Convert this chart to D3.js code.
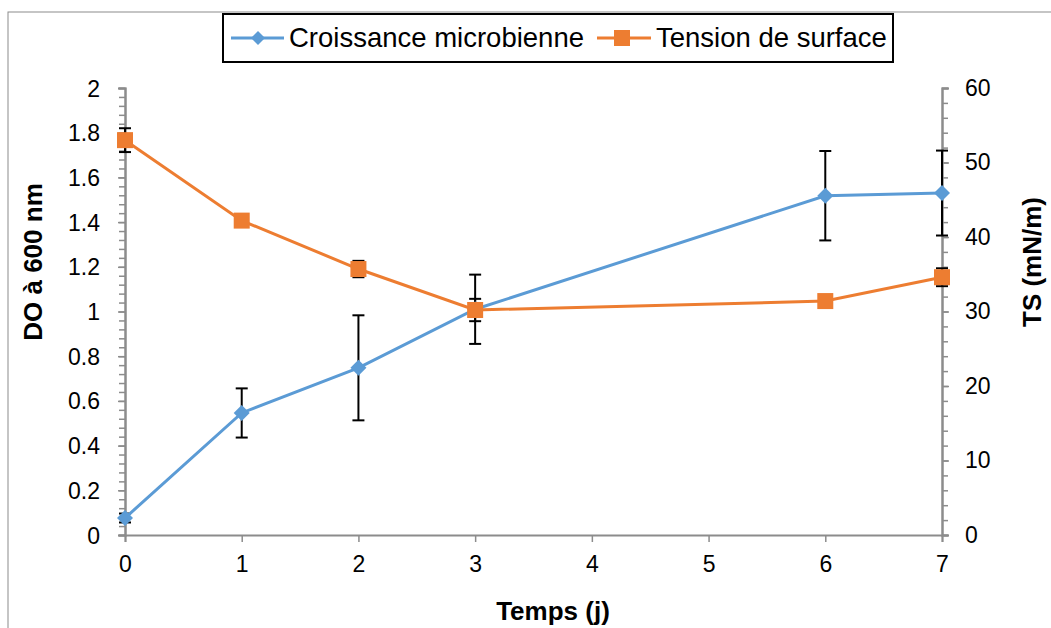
<!DOCTYPE html>
<html><head><meta charset="utf-8">
<script src="https://cdn.jsdelivr.net/npm/d3@7"></script>
<style>body{margin:0;background:#fff;}svg{display:block;font-family:"Liberation Sans",Arial,sans-serif;}</style>
</head><body>
<svg id="c" width="1051" height="628"></svg>
<script>
const days = [0, 1, 2, 3, 6, 7];
const xTicks = [0, 1, 2, 3, 4, 5, 6, 7];
const growth = [0.076, 0.546, 0.748, 1.01, 1.518, 1.53];
const growthErr = [0.02, 0.11, 0.235, 0.155, 0.2, 0.19];
const tension = [53.0, 42.2, 35.7, 30.2, 31.4, 34.6];
const tensionErr = [1.6, 0.4, 1.1, 1.5, 0.4, 1.2];
const leftTicks = [0, 0.2, 0.4, 0.6, 0.8, 1, 1.2, 1.4, 1.6, 1.8, 2];
const rightTicks = [0, 10, 20, 30, 40, 50, 60];
const seriesNames = ["Croissance microbienne", "Tension de surface"];

const svg = d3.select("#c");
const x = d3.scaleLinear().domain([0, 7]).range([125, 942]);
const yL = d3.scaleLinear().domain([0, 2]).range([535, 88]);
const yR = d3.scaleLinear().domain([0, 60]).range([535, 88]);
const axisCol = "#8c8c8c";
const blue = "#5b9bd5", orange = "#ed7d31";

// outer border
svg.append("rect").attr("x", 8).attr("y", 12).attr("width", 1100).attr("height", 700)
  .attr("fill", "none").attr("stroke", "#8c8c8c").attr("stroke-width", 1);

function styleAxis(g) {
  g.selectAll(".domain").attr("stroke", axisCol).attr("stroke-width", 2);
  g.selectAll(".tick line").attr("stroke", axisCol).attr("stroke-width", 1.5);
  g.selectAll(".tick text").attr("fill", "#000").style("font-size", "23px").style("font-family", "Liberation Sans, Arial, sans-serif");
}

// left minor ticks
svg.append("g").attr("transform", "translate(125,0)")
  .call(d3.axisLeft(yL).tickValues(d3.range(0, 51).map(i => i * 0.04)).tickSize(6).tickFormat(""))
  .call(styleAxis);
const gl = svg.append("g").attr("transform", "translate(125,0)")
  .call(d3.axisLeft(yL).tickValues(leftTicks).tickSize(7).tickPadding(18).tickFormat(d => d3.format("")(+d.toFixed(1))))
  .call(styleAxis);
gl.selectAll(".tick text").attr("dy", "0.35em");

svg.append("g").attr("transform", "translate(942,0)")
  .call(d3.axisRight(yR).tickValues(d3.range(0, 31).map(i => i * 2)).tickSize(6).tickFormat(""))
  .call(styleAxis);
svg.append("g").attr("transform", "translate(942,0)")
  .call(d3.axisRight(yR).tickValues(rightTicks).tickSize(7).tickPadding(16))
  .call(styleAxis);

const gx = svg.append("g").attr("transform", "translate(0,535)")
  .call(d3.axisBottom(x).tickValues(xTicks).tickSize(7).tickPadding(14).tickFormat(d3.format("d")))
  .call(styleAxis);

// axis titles
svg.append("text").attr("transform", "translate(42,262) rotate(-90)").attr("text-anchor", "middle")
  .style("font-size", "26px").style("font-weight", "bold").text("DO à 600 nm");
svg.append("text").attr("transform", "translate(1041,262) rotate(-90)").attr("text-anchor", "middle")
  .style("font-size", "26px").style("font-weight", "bold").text("TS (mN/m)");
svg.append("text").attr("x", 553).attr("y", 620).attr("text-anchor", "middle")
  .style("font-size", "26px").style("font-weight", "bold").text("Temps (j)");

// error bars
function errBars(vals, errs, ys) {
  const g = svg.append("g").attr("stroke", "#000").attr("stroke-width", 2);
  days.forEach((d, i) => {
    const cx = x(d), y1 = ys(vals[i] + errs[i]), y2 = ys(vals[i] - errs[i]);
    g.append("line").attr("x1", cx).attr("x2", cx).attr("y1", y1).attr("y2", y2);
    g.append("line").attr("x1", cx - 6).attr("x2", cx + 6).attr("y1", y1).attr("y2", y1);
    g.append("line").attr("x1", cx - 6).attr("x2", cx + 6).attr("y1", y2).attr("y2", y2);
  });
}
errBars(growth, growthErr, yL);
errBars(tension, tensionErr, yR);

const lineG = d3.line().x((d, i) => x(days[i])).y(d => yL(d));
const lineT = d3.line().x((d, i) => x(days[i])).y(d => yR(d));
svg.append("path").attr("d", lineG(growth)).attr("fill", "none").attr("stroke", blue).attr("stroke-width", 3);
svg.append("path").attr("d", lineT(tension)).attr("fill", "none").attr("stroke", orange).attr("stroke-width", 3);

const diamond = "M0,-8L8,0L0,8L-8,0Z";
svg.append("g").selectAll("path").data(growth).join("path")
  .attr("d", diamond).attr("fill", blue)
  .attr("transform", (d, i) => `translate(${x(days[i])},${yL(d)})`);
svg.append("g").selectAll("rect").data(tension).join("rect")
  .attr("x", (d, i) => x(days[i]) - 8).attr("y", d => yR(d) - 8)
  .attr("width", 16).attr("height", 16).attr("fill", orange);

// legend
const lg = svg.append("g");
lg.append("rect").attr("x", 223).attr("y", 14).attr("width", 670).attr("height", 48)
  .attr("fill", "#fff").attr("stroke", "#000").attr("stroke-width", 2);
lg.append("line").attr("x1", 231).attr("x2", 284).attr("y1", 38).attr("y2", 38).attr("stroke", blue).attr("stroke-width", 3);
lg.append("path").attr("d", "M0,-7L7,0L0,7L-7,0Z").attr("fill", blue).attr("transform", "translate(258,38)");
lg.append("text").attr("x", 289).attr("y", 47).style("font-size", "27.5px").text(seriesNames[0]);
lg.append("line").attr("x1", 597).attr("x2", 651).attr("y1", 38).attr("y2", 38).attr("stroke", orange).attr("stroke-width", 3);
lg.append("rect").attr("x", 614).attr("y", 30).attr("width", 16).attr("height", 16).attr("fill", orange);
lg.append("text").attr("x", 656).attr("y", 47).style("font-size", "27.5px").text(seriesNames[1]);
</script>
</body></html>
